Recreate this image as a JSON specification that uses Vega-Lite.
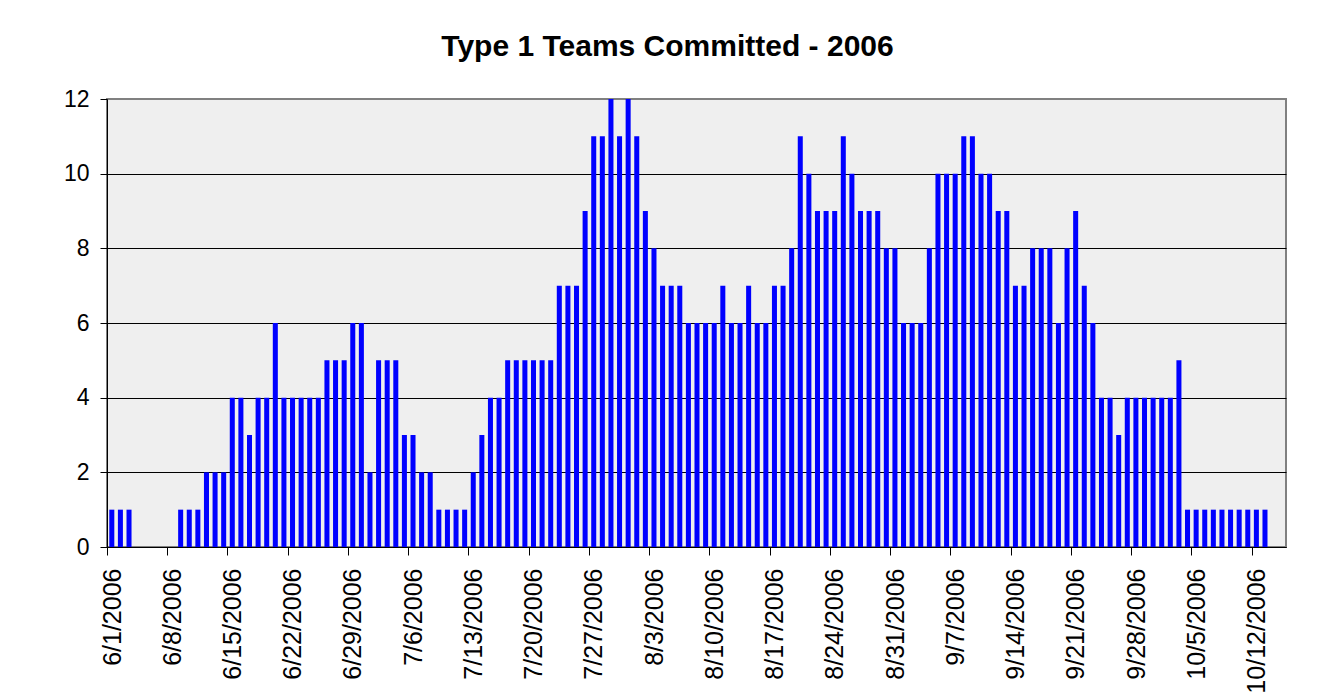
{
  "$schema": "https://vega.github.io/schema/vega-lite/v6.json",
  "autosize": "none",
  "width": 1179,
  "height": 448,
  "padding": {"left": 107, "top": 99, "right": 45, "bottom": 151},
  "background": "white",
  "config": {
    "font": "Liberation Sans",
    "view": {"fill": "#EFEFEF", "stroke": "#808080", "strokeWidth": 2}
  },
  "title": {
    "text": "Type 1 Teams Committed - 2006",
    "font": "Liberation Sans",
    "fontSize": 30,
    "fontWeight": "bold",
    "color": "black",
    "anchor": "middle",
    "frame": "group",
    "dx": -29,
    "baseline": "alphabetic",
    "offset": 2
  },
  "data": {
    "values": [
      {"date": "6/1/2006", "teams": 1}, {"date": "6/2/2006", "teams": 1}, {"date": "6/3/2006", "teams": 1},
      {"date": "6/9/2006", "teams": 1}, {"date": "6/10/2006", "teams": 1}, {"date": "6/11/2006", "teams": 1},
      {"date": "6/12/2006", "teams": 2}, {"date": "6/13/2006", "teams": 2}, {"date": "6/14/2006", "teams": 2},
      {"date": "6/15/2006", "teams": 4}, {"date": "6/16/2006", "teams": 4}, {"date": "6/17/2006", "teams": 3},
      {"date": "6/18/2006", "teams": 4}, {"date": "6/19/2006", "teams": 4}, {"date": "6/20/2006", "teams": 6},
      {"date": "6/21/2006", "teams": 4}, {"date": "6/22/2006", "teams": 4}, {"date": "6/23/2006", "teams": 4},
      {"date": "6/24/2006", "teams": 4}, {"date": "6/25/2006", "teams": 4}, {"date": "6/26/2006", "teams": 5},
      {"date": "6/27/2006", "teams": 5}, {"date": "6/28/2006", "teams": 5}, {"date": "6/29/2006", "teams": 6},
      {"date": "6/30/2006", "teams": 6}, {"date": "7/1/2006", "teams": 2}, {"date": "7/2/2006", "teams": 5},
      {"date": "7/3/2006", "teams": 5}, {"date": "7/4/2006", "teams": 5}, {"date": "7/5/2006", "teams": 3},
      {"date": "7/6/2006", "teams": 3}, {"date": "7/7/2006", "teams": 2}, {"date": "7/8/2006", "teams": 2},
      {"date": "7/9/2006", "teams": 1}, {"date": "7/10/2006", "teams": 1}, {"date": "7/11/2006", "teams": 1},
      {"date": "7/12/2006", "teams": 1}, {"date": "7/13/2006", "teams": 2}, {"date": "7/14/2006", "teams": 3},
      {"date": "7/15/2006", "teams": 4}, {"date": "7/16/2006", "teams": 4}, {"date": "7/17/2006", "teams": 5},
      {"date": "7/18/2006", "teams": 5}, {"date": "7/19/2006", "teams": 5}, {"date": "7/20/2006", "teams": 5},
      {"date": "7/21/2006", "teams": 5}, {"date": "7/22/2006", "teams": 5}, {"date": "7/23/2006", "teams": 7},
      {"date": "7/24/2006", "teams": 7}, {"date": "7/25/2006", "teams": 7}, {"date": "7/26/2006", "teams": 9},
      {"date": "7/27/2006", "teams": 11}, {"date": "7/28/2006", "teams": 11}, {"date": "7/29/2006", "teams": 12},
      {"date": "7/30/2006", "teams": 11}, {"date": "7/31/2006", "teams": 12}, {"date": "8/1/2006", "teams": 11},
      {"date": "8/2/2006", "teams": 9}, {"date": "8/3/2006", "teams": 8}, {"date": "8/4/2006", "teams": 7},
      {"date": "8/5/2006", "teams": 7}, {"date": "8/6/2006", "teams": 7}, {"date": "8/7/2006", "teams": 6},
      {"date": "8/8/2006", "teams": 6}, {"date": "8/9/2006", "teams": 6}, {"date": "8/10/2006", "teams": 6},
      {"date": "8/11/2006", "teams": 7}, {"date": "8/12/2006", "teams": 6}, {"date": "8/13/2006", "teams": 6},
      {"date": "8/14/2006", "teams": 7}, {"date": "8/15/2006", "teams": 6}, {"date": "8/16/2006", "teams": 6},
      {"date": "8/17/2006", "teams": 7}, {"date": "8/18/2006", "teams": 7}, {"date": "8/19/2006", "teams": 8},
      {"date": "8/20/2006", "teams": 11}, {"date": "8/21/2006", "teams": 10}, {"date": "8/22/2006", "teams": 9},
      {"date": "8/23/2006", "teams": 9}, {"date": "8/24/2006", "teams": 9}, {"date": "8/25/2006", "teams": 11},
      {"date": "8/26/2006", "teams": 10}, {"date": "8/27/2006", "teams": 9}, {"date": "8/28/2006", "teams": 9},
      {"date": "8/29/2006", "teams": 9}, {"date": "8/30/2006", "teams": 8}, {"date": "8/31/2006", "teams": 8},
      {"date": "9/1/2006", "teams": 6}, {"date": "9/2/2006", "teams": 6}, {"date": "9/3/2006", "teams": 6},
      {"date": "9/4/2006", "teams": 8}, {"date": "9/5/2006", "teams": 10}, {"date": "9/6/2006", "teams": 10},
      {"date": "9/7/2006", "teams": 10}, {"date": "9/8/2006", "teams": 11}, {"date": "9/9/2006", "teams": 11},
      {"date": "9/10/2006", "teams": 10}, {"date": "9/11/2006", "teams": 10}, {"date": "9/12/2006", "teams": 9},
      {"date": "9/13/2006", "teams": 9}, {"date": "9/14/2006", "teams": 7}, {"date": "9/15/2006", "teams": 7},
      {"date": "9/16/2006", "teams": 8}, {"date": "9/17/2006", "teams": 8}, {"date": "9/18/2006", "teams": 8},
      {"date": "9/19/2006", "teams": 6}, {"date": "9/20/2006", "teams": 8}, {"date": "9/21/2006", "teams": 9},
      {"date": "9/22/2006", "teams": 7}, {"date": "9/23/2006", "teams": 6}, {"date": "9/24/2006", "teams": 4},
      {"date": "9/25/2006", "teams": 4}, {"date": "9/26/2006", "teams": 3}, {"date": "9/27/2006", "teams": 4},
      {"date": "9/28/2006", "teams": 4}, {"date": "9/29/2006", "teams": 4}, {"date": "9/30/2006", "teams": 4},
      {"date": "10/1/2006", "teams": 4}, {"date": "10/2/2006", "teams": 4}, {"date": "10/3/2006", "teams": 5},
      {"date": "10/4/2006", "teams": 1}, {"date": "10/5/2006", "teams": 1}, {"date": "10/6/2006", "teams": 1},
      {"date": "10/7/2006", "teams": 1}, {"date": "10/8/2006", "teams": 1}, {"date": "10/9/2006", "teams": 1},
      {"date": "10/10/2006", "teams": 1}, {"date": "10/11/2006", "teams": 1}, {"date": "10/12/2006", "teams": 1},
      {"date": "10/13/2006", "teams": 1}
    ]
  },
  "mark": {"type": "bar", "color": "#0000FF", "width": {"band": 0.7}},
  "encoding": {
    "x": {
      "field": "date",
      "type": "temporal",
      "timeUnit": "yearmonthdate",
      "title": null,
      "scale": {
        "domain": [
          {"year": 2006, "month": 6, "date": 1},
          {"year": 2006, "month": 10, "date": 16}
        ]
      },
      "axis": {
        "values": [
          {"year": 2006, "month": 6, "date": 1}, {"year": 2006, "month": 6, "date": 8},
          {"year": 2006, "month": 6, "date": 15}, {"year": 2006, "month": 6, "date": 22},
          {"year": 2006, "month": 6, "date": 29}, {"year": 2006, "month": 7, "date": 6},
          {"year": 2006, "month": 7, "date": 13}, {"year": 2006, "month": 7, "date": 20},
          {"year": 2006, "month": 7, "date": 27}, {"year": 2006, "month": 8, "date": 3},
          {"year": 2006, "month": 8, "date": 10}, {"year": 2006, "month": 8, "date": 17},
          {"year": 2006, "month": 8, "date": 24}, {"year": 2006, "month": 8, "date": 31},
          {"year": 2006, "month": 9, "date": 7}, {"year": 2006, "month": 9, "date": 14},
          {"year": 2006, "month": 9, "date": 21}, {"year": 2006, "month": 9, "date": 28},
          {"year": 2006, "month": 10, "date": 5}, {"year": 2006, "month": 10, "date": 12}
        ],
        "format": "%-m/%-d/%Y",
        "formatType": "time",
        "labelAngle": -90,
        "labelFont": "Liberation Sans",
        "labelFontSize": 25,
        "labelColor": "black",
        "labelPadding": 13,
        "labelOffset": 5,
        "labelOverlap": false,
        "labelFlush": false,
        "labelBound": false,
        "tickSize": 8,
        "tickColor": "black",
        "domainColor": "black",
        "grid": false
      }
    },
    "y": {
      "field": "teams",
      "type": "quantitative",
      "title": null,
      "scale": {"domain": [0, 12], "nice": false},
      "axis": {
        "values": [0, 2, 4, 6, 8, 10, 12],
        "labelFont": "Liberation Sans",
        "labelFontSize": 23,
        "labelColor": "black",
        "labelPadding": 11,
        "tickSize": 7,
        "tickColor": "black",
        "domainColor": "black",
        "grid": true,
        "gridColor": {"condition": {"test": "datum.value == 12", "value": "#808080"}, "value": "black"},
        "gridOpacity": 1,
        "gridWidth": 1
      }
    }
  }
}
